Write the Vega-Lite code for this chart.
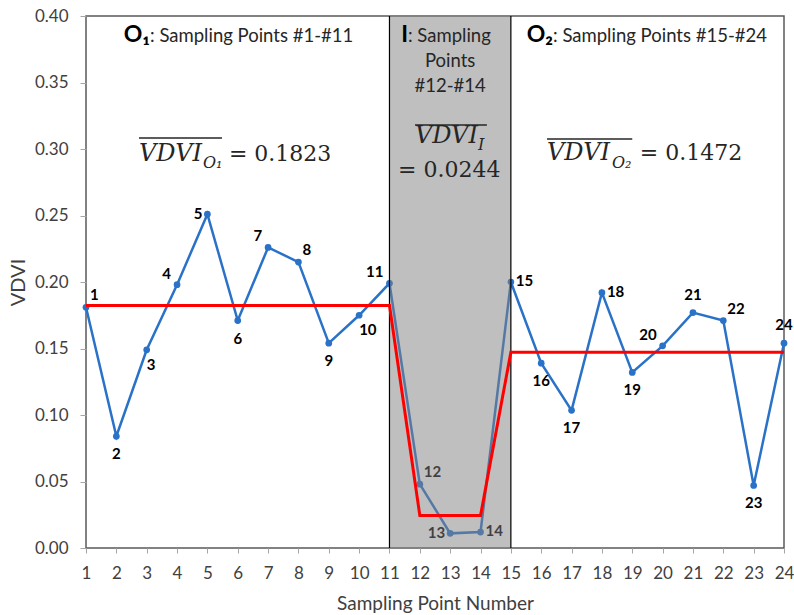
{
  "$schema": "https://vega.github.io/schema/vega-lite/v6.json",
  "width": 698,
  "height": 532,
  "autosize": {"type": "none"},
  "padding": {"left": 86, "top": 16, "right": 10, "bottom": 67},
  "background": "white",
  "config": {
    "view": {"stroke": "#595959", "strokeWidth": 1.5},
    "font": "Lato",
    "axis": {"labelOverlap": false},
    "axisX": {"labelOverlap": false, "labelSeparation": 0},
    "axisQuantitative": {"labelOverlap": false}
  },
  "datasets": {
    "pts": [
      {"n": 1, "v": 0.181, "m": 0.1823, "p": "ar"},
      {"n": 2, "v": 0.084, "m": 0.1823, "p": "b"},
      {"n": 3, "v": 0.149, "m": 0.1823, "p": "br"},
      {"n": 4, "v": 0.198, "m": 0.1823, "p": "al"},
      {"n": 5, "v": 0.251, "m": 0.1823, "p": "l"},
      {"n": 6, "v": 0.171, "m": 0.1823, "p": "b"},
      {"n": 7, "v": 0.226, "m": 0.1823, "p": "al"},
      {"n": 8, "v": 0.215, "m": 0.1823, "p": "ar"},
      {"n": 9, "v": 0.154, "m": 0.1823, "p": "b"},
      {"n": 10, "v": 0.175, "m": 0.1823, "p": "br"},
      {"n": 11, "v": 0.199, "m": 0.1823, "p": "al"},
      {"n": 12, "v": 0.048, "m": 0.0244, "p": "ar"},
      {"n": 13, "v": 0.011, "m": 0.0244, "p": "l"},
      {"n": 14, "v": 0.012, "m": 0.0244, "p": "r"},
      {"n": 15, "v": 0.200, "m": 0.1472, "p": "r"},
      {"n": 16, "v": 0.139, "m": 0.1472, "p": "b"},
      {"n": 17, "v": 0.1035, "m": 0.1472, "p": "b"},
      {"n": 18, "v": 0.192, "m": 0.1472, "p": "r"},
      {"n": 19, "v": 0.132, "m": 0.1472, "p": "b"},
      {"n": 20, "v": 0.152, "m": 0.1472, "p": "al"},
      {"n": 21, "v": 0.177, "m": 0.1472, "p": "a"},
      {"n": 22, "v": 0.171, "m": 0.1472, "p": "ar"},
      {"n": 23, "v": 0.047, "m": 0.1472, "p": "b"},
      {"n": 24, "v": 0.154, "m": 0.1472, "p": "a"}
    ],
    "hbold": [
      {"x": 3.11, "y": 0.3805, "t": "O₁"},
      {"x": 11.61, "y": 0.3805, "t": "I"},
      {"x": 16.39, "y": 0.3805, "t": "O₂"}
    ],
    "hreg": [
      {"x": 3.11, "y": 0.3805, "t": ": Sampling Points #1-#11"},
      {"x": 11.61, "y": 0.3805, "t": ": Sampling"},
      {"x": 16.39, "y": 0.3805, "t": ": Sampling Points #15-#24"}
    ],
    "hcen": [
      {"x": 13, "y": 0.3619, "t": "Points"},
      {"x": 13, "y": 0.3431, "t": "#12-#14"}
    ],
    "mital": [
      {"x": 2.746, "y": 0.291, "t": "VDVI"},
      {"x": 11.84, "y": 0.3045, "t": "VDVI"},
      {"x": 16.19, "y": 0.2917, "t": "VDVI"}
    ],
    "msub": [
      {"x": 4.855, "y": 0.2857, "t": "O₁"},
      {"x": 13.92, "y": 0.2992, "t": "I"},
      {"x": 18.33, "y": 0.2857, "t": "O₂"}
    ],
    "mup": [
      {"x": 5.71, "y": 0.291, "t": "= 0.1823"},
      {"x": 11.28, "y": 0.279, "t": "= 0.0244"},
      {"x": 19.25, "y": 0.2917, "t": "= 0.1472"}
    ],
    "bars": [
      {"x": 2.746, "x2": 5.48, "y": 0.3083},
      {"x": 11.84, "x2": 14.21, "y": 0.318},
      {"x": 16.19, "x2": 19.0, "y": 0.3075}
    ],
    "edges": [{"x": 11}, {"x": 15}],
    "band": [{"x": 11, "x2": 15, "y": 0, "y2": 0.4}]
  },
  "layer": [
    {
      "data": {"name": "pts"},
      "mark": {"type": "line", "color": "#2a72c8", "strokeWidth": 2.5, "point": {"filled": true, "size": 45, "color": "#2a72c8"}},
      "encoding": {
        "x": {"field": "n", "type": "quantitative", "title": "Sampling Point Number", "scale": {"domain": [1, 24], "nice": false, "zero": false},
          "axis": {"values": [1,2,3,4,5,6,7,8,9,10,11,12,13,14,15,16,17,18,19,20,21,22,23,24], "tickCount": 24, "title": "Sampling Point Number", "grid": false, "domain": false,
            "tickColor": "#a6a6a6", "tickSize": 5, "labelFontSize": 17, "labelColor": "#404040", "labelPadding": 12, "labelOverlap": false,
            "titleFontSize": 19, "titleFontWeight": "normal", "titleColor": "#404040", "titlePadding": 13, "labelFlush": false}},
        "y": {"field": "v", "type": "quantitative", "title": "VDVI", "scale": {"domain": [0, 0.4], "nice": false},
          "axis": {"values": [0, 0.05, 0.1, 0.15, 0.2, 0.25, 0.3, 0.35, 0.4], "format": ".2f", "title": "VDVI", "grid": false, "domain": false,
            "tickColor": "#a6a6a6", "tickSize": 6, "labelFontSize": 17, "labelColor": "#404040", "labelPadding": 12, "labelOverlap": false,
            "titleFontSize": 20, "titleFontWeight": "normal", "titleColor": "#404040", "titlePadding": 6, "labelFlush": false}}
      }
    },
    {
      "data": {"name": "pts"},
      "transform": [{"filter": "datum.p == 'a'"}],
      "mark": {"type": "text", "fontWeight": "bold", "fontSize": 15, "color": "black", "align": "center", "baseline": "middle", "dy": -18},
      "encoding": {"x": {"field": "n", "type": "quantitative", "title": "Sampling Point Number"}, "y": {"field": "v", "type": "quantitative", "title": "VDVI"}, "text": {"field": "n"}}
    },
    {
      "data": {"name": "pts"},
      "transform": [{"filter": "datum.p == 'b'"}],
      "mark": {"type": "text", "fontWeight": "bold", "fontSize": 15, "color": "black", "align": "center", "baseline": "middle", "dy": 18},
      "encoding": {"x": {"field": "n", "type": "quantitative", "title": "Sampling Point Number"}, "y": {"field": "v", "type": "quantitative", "title": "VDVI"}, "text": {"field": "n"}}
    },
    {
      "data": {"name": "pts"},
      "transform": [{"filter": "datum.p == 'ar'"}],
      "mark": {"type": "text", "fontWeight": "bold", "fontSize": 15, "color": "black", "align": "left", "baseline": "middle", "dx": 4, "dy": -12},
      "encoding": {"x": {"field": "n", "type": "quantitative", "title": "Sampling Point Number"}, "y": {"field": "v", "type": "quantitative", "title": "VDVI"}, "text": {"field": "n"}}
    },
    {
      "data": {"name": "pts"},
      "transform": [{"filter": "datum.p == 'al'"}],
      "mark": {"type": "text", "fontWeight": "bold", "fontSize": 15, "color": "black", "align": "right", "baseline": "middle", "dx": -6, "dy": -11},
      "encoding": {"x": {"field": "n", "type": "quantitative", "title": "Sampling Point Number"}, "y": {"field": "v", "type": "quantitative", "title": "VDVI"}, "text": {"field": "n"}}
    },
    {
      "data": {"name": "pts"},
      "transform": [{"filter": "datum.p == 'br'"}],
      "mark": {"type": "text", "fontWeight": "bold", "fontSize": 15, "color": "black", "align": "left", "baseline": "middle", "dx": 0, "dy": 15},
      "encoding": {"x": {"field": "n", "type": "quantitative", "title": "Sampling Point Number"}, "y": {"field": "v", "type": "quantitative", "title": "VDVI"}, "text": {"field": "n"}}
    },
    {
      "data": {"name": "pts"},
      "transform": [{"filter": "datum.p == 'l'"}],
      "mark": {"type": "text", "fontWeight": "bold", "fontSize": 15, "color": "black", "align": "right", "baseline": "middle", "dx": -5, "dy": 0},
      "encoding": {"x": {"field": "n", "type": "quantitative", "title": "Sampling Point Number"}, "y": {"field": "v", "type": "quantitative", "title": "VDVI"}, "text": {"field": "n"}}
    },
    {
      "data": {"name": "pts"},
      "transform": [{"filter": "datum.p == 'r'"}],
      "mark": {"type": "text", "fontWeight": "bold", "fontSize": 15, "color": "black", "align": "left", "baseline": "middle", "dx": 5, "dy": -1},
      "encoding": {"x": {"field": "n", "type": "quantitative", "title": "Sampling Point Number"}, "y": {"field": "v", "type": "quantitative", "title": "VDVI"}, "text": {"field": "n"}}
    },
    {
      "data": {"name": "band"},
      "mark": {"type": "rect", "color": "#808080", "opacity": 0.5},
      "encoding": {"x": {"field": "x", "type": "quantitative", "title": "Sampling Point Number"}, "x2": {"field": "x2"}, "y": {"field": "y", "type": "quantitative", "title": "VDVI"}, "y2": {"field": "y2"}}
    },
    {
      "data": {"name": "edges"},
      "mark": {"type": "rule", "color": "black", "strokeWidth": 1.2},
      "encoding": {"x": {"field": "x", "type": "quantitative", "title": "Sampling Point Number"}}
    },
    {
      "data": {"name": "pts"},
      "mark": {"type": "line", "color": "#ff0000", "strokeWidth": 3},
      "encoding": {"x": {"field": "n", "type": "quantitative", "title": "Sampling Point Number"}, "y": {"field": "m", "type": "quantitative", "title": "VDVI"}}
    },
    {
      "data": {"name": "hbold"},
      "mark": {"type": "text", "fontWeight": "bold", "fontSize": 23, "color": "black", "align": "right", "baseline": "alphabetic", "font": "Lato"},
      "encoding": {"x": {"field": "x", "type": "quantitative", "title": "Sampling Point Number"}, "y": {"field": "y", "type": "quantitative", "title": "VDVI"}, "text": {"field": "t"}}
    },
    {
      "data": {"name": "hreg"},
      "mark": {"type": "text", "fontSize": 18.5, "color": "#262626", "align": "left", "baseline": "alphabetic", "font": "Lato"},
      "encoding": {"x": {"field": "x", "type": "quantitative", "title": "Sampling Point Number"}, "y": {"field": "y", "type": "quantitative", "title": "VDVI"}, "text": {"field": "t"}}
    },
    {
      "data": {"name": "hcen"},
      "mark": {"type": "text", "fontSize": 18.5, "color": "#262626", "align": "center", "baseline": "alphabetic", "font": "Lato"},
      "encoding": {"x": {"field": "x", "type": "quantitative", "title": "Sampling Point Number"}, "y": {"field": "y", "type": "quantitative", "title": "VDVI"}, "text": {"field": "t"}}
    },
    {
      "data": {"name": "mital"},
      "mark": {"type": "text", "fontSize": 24, "fontStyle": "italic", "color": "#262626", "align": "left", "baseline": "alphabetic", "font": "DejaVu Serif"},
      "encoding": {"x": {"field": "x", "type": "quantitative", "title": "Sampling Point Number"}, "y": {"field": "y", "type": "quantitative", "title": "VDVI"}, "text": {"field": "t"}}
    },
    {
      "data": {"name": "msub"},
      "mark": {"type": "text", "fontSize": 16, "fontStyle": "italic", "color": "#262626", "align": "left", "baseline": "alphabetic", "font": "DejaVu Serif"},
      "encoding": {"x": {"field": "x", "type": "quantitative", "title": "Sampling Point Number"}, "y": {"field": "y", "type": "quantitative", "title": "VDVI"}, "text": {"field": "t"}}
    },
    {
      "data": {"name": "mup"},
      "mark": {"type": "text", "fontSize": 22, "color": "#262626", "align": "left", "baseline": "alphabetic", "font": "DejaVu Serif"},
      "encoding": {"x": {"field": "x", "type": "quantitative", "title": "Sampling Point Number"}, "y": {"field": "y", "type": "quantitative", "title": "VDVI"}, "text": {"field": "t"}}
    },
    {
      "data": {"name": "bars"},
      "mark": {"type": "rule", "color": "#262626", "strokeWidth": 1.5},
      "encoding": {"x": {"field": "x", "type": "quantitative", "title": "Sampling Point Number"}, "x2": {"field": "x2"}, "y": {"field": "y", "type": "quantitative", "title": "VDVI"}}
    }
  ]
}
